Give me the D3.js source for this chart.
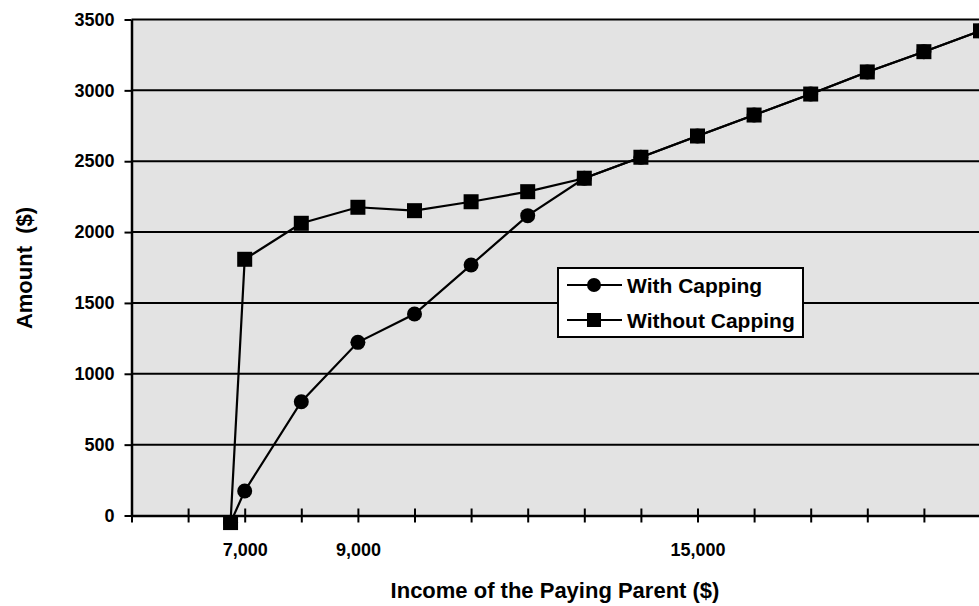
<!DOCTYPE html>
<html>
<head>
<meta charset="utf-8">
<script src="https://cdn.jsdelivr.net/npm/d3@7"></script>
<style>
  body { margin: 0; background: #fff; }
  svg text { font-family: "Liberation Sans", Arial, sans-serif; font-weight: bold; fill: #000; }
</style>
</head>
<body>
<div id="chart"></div>
<script>
// income levels (x) and amounts for the two series
var income = [6750, 7000, 8000, 9000, 10000, 11000, 12000, 13000, 14000, 15000, 16000, 17000, 18000, 19000, 20000];
var withCapping = [-50, 173, 803, 1222, 1422, 1768, 2116, 2380, 2528, 2678, 2826, 2974, 3130, 3273, 3420];
var withoutCapping = [-50, 1808, 2062, 2175, 2151, 2214, 2285, 2380, 2528, 2678, 2826, 2974, 3130, 3273, 3420];
var xTicks = [5000, 6000, 7000, 8000, 9000, 10000, 11000, 12000, 13000, 14000, 15000, 16000, 17000, 18000, 19000, 20000];
var xLabels = [7000, 9000, 15000];
var yTicks = [0, 500, 1000, 1500, 2000, 2500, 3000, 3500];
var seriesNames = ["With Capping", "Without Capping"];

function renderChart() {

    //Set dimensions
    var width = 979, height = 606;
    var plotLeft = 131.5, plotRight = 980.5, plotTop = 19.5, plotBottom = 515.5;

    var svg = d3.select("#chart").append("svg")
        .attr("width", width)
        .attr("height", height);

    var x = d3.scaleLinear().domain([5000, 20000]).range([plotLeft, plotRight]);
    var y = d3.scaleLinear().domain([0, 3500]).range([plotBottom, plotTop]);

    //Plot background
    svg.append("rect")
        .attr("x", plotLeft)
        .attr("y", plotTop)
        .attr("width", plotRight - plotLeft)
        .attr("height", plotBottom - plotTop)
        .style("fill", "#e3e3e3");

    //Gridlines
    svg.selectAll(".grid")
        .data(yTicks.filter(function (d) { return d > 0; }))
        .enter().append("line")
        .attr("x1", plotLeft)
        .attr("x2", plotRight)
        .attr("y1", function (d) { return y(d); })
        .attr("y2", function (d) { return y(d); })
        .style("stroke", "#000")
        .style("stroke-width", 2);

    //Y axis
    var yAxis = svg.append("g")
        .attr("transform", "translate(" + plotLeft + ",0)")
        .call(d3.axisLeft(y).tickValues(yTicks).tickSize(7).tickSizeOuter(0).tickPadding(10).tickFormat(d3.format("d")));
    yAxis.select(".domain").style("stroke-width", 2.5);
    yAxis.selectAll(".tick line").style("stroke-width", 2);
    yAxis.selectAll("text").style("font-size", "18px").attr("font-family", null);

    //X axis
    var xAxis = svg.append("g")
        .attr("transform", "translate(0," + plotBottom + ")")
        .call(d3.axisBottom(x).tickValues(xTicks).tickSize(7).tickSizeOuter(0)
            .tickFormat(function (d) { return xLabels.indexOf(d) >= 0 ? d3.format(",")(d) : ""; }));
    xAxis.select(".domain").style("stroke-width", 2.5);
    xAxis.selectAll(".tick line").attr("y1", -7).style("stroke-width", 2);
    xAxis.selectAll("text").attr("y", 28).style("font-size", "18px").attr("font-family", null);

    //Axis titles
    svg.append("text")
        .attr("x", 555)
        .attr("y", 598)
        .attr("text-anchor", "middle")
        .style("font-size", "22px")
        .text("Income of the Paying Parent ($)");

    svg.append("text")
        .attr("transform", "translate(32,268) rotate(-90)")
        .attr("text-anchor", "middle")
        .style("font-size", "22px")
        .style("white-space", "pre")
        .text("Amount  ($)");

    //Series lines
    var line = d3.line()
        .x(function (d) { return x(d[0]); })
        .y(function (d) { return y(d[1]); });

    var plot = svg.append("g");
    var series = [withCapping, withoutCapping].map(function (vals) {
        return income.map(function (d, i) { return [d, vals[i]]; });
    });

    series.forEach(function (pts) {
        plot.append("path")
            .attr("d", line(pts))
            .style("fill", "none")
            .style("stroke", "#000")
            .style("stroke-width", 2.2);
    });

    //Markers: circles first, squares on top
    plot.selectAll(".dot")
        .data(series[0])
        .enter().append("circle")
        .attr("cx", function (d) { return x(d[0]); })
        .attr("cy", function (d) { return y(d[1]); })
        .attr("r", 7.5)
        .style("fill", "#000");

    plot.selectAll(".sq")
        .data(series[1])
        .enter().append("rect")
        .attr("x", function (d) { return x(d[0]) - 7.5; })
        .attr("y", function (d) { return y(d[1]) - 7.5; })
        .attr("width", 15)
        .attr("height", 15)
        .style("fill", "#000");

    //Legend
    var legend = svg.append("g").attr("transform", "translate(558,268)");
    legend.append("rect")
        .attr("width", 245)
        .attr("height", 69)
        .style("fill", "#fff")
        .style("stroke", "#000")
        .style("stroke-width", 2);

    var rows = legend.selectAll(".row")
        .data(seriesNames)
        .enter().append("g")
        .attr("transform", function (d, i) { return "translate(0," + (17 + i * 35) + ")"; });

    rows.append("line")
        .attr("x1", 9).attr("x2", 64)
        .style("stroke", "#000")
        .style("stroke-width", 2);

    rows.each(function (d, i) {
        var g = d3.select(this);
        if (i === 0) {
            g.append("circle").attr("cx", 36).attr("r", 7).style("fill", "#000");
        } else {
            g.append("rect").attr("x", 29).attr("y", -7).attr("width", 14).attr("height", 14).style("fill", "#000");
        }
    });

    rows.append("text")
        .attr("x", 69)
        .attr("dy", "0.36em")
        .style("font-size", "21px")
        .text(function (d) { return d; });

}//End renderChart

renderChart();
</script>
</body>
</html>
